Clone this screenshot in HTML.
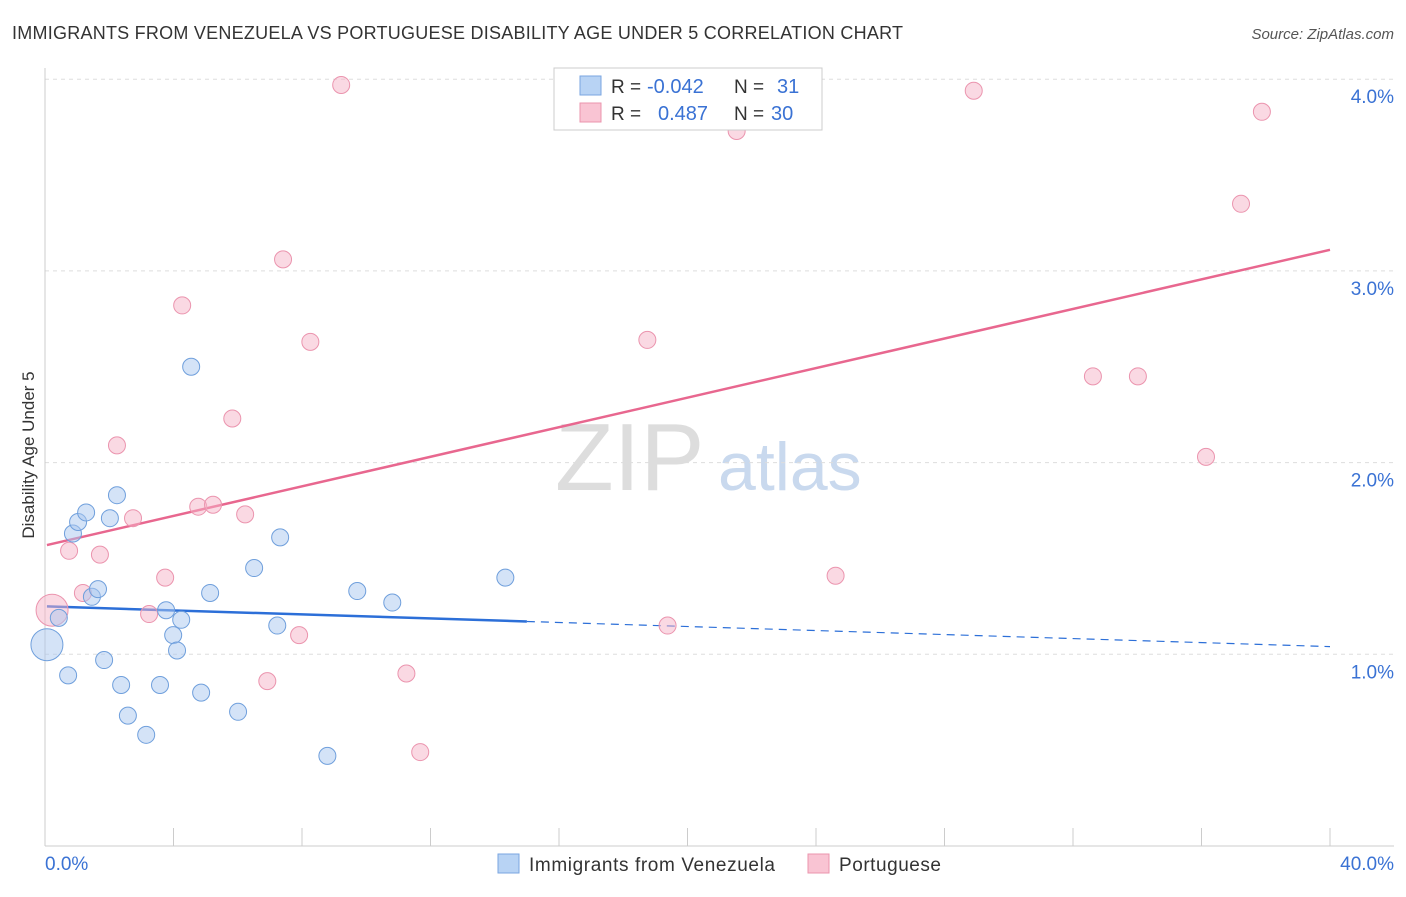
<!DOCTYPE html>
<html><head><meta charset="utf-8"><style>
body{margin:0;background:#fff;font-family:"Liberation Sans",sans-serif;}
svg text{font-family:"Liberation Sans",sans-serif;}
</style></head><body>
<svg id="chart" width="1406" height="892" xmlns="http://www.w3.org/2000/svg">
<text x="12" y="39" font-size="18" fill="#333" textLength="891">IMMIGRANTS FROM VENEZUELA VS PORTUGUESE DISABILITY AGE UNDER 5 CORRELATION CHART</text>
<text x="1394" y="39" font-size="15" fill="#555" font-style="italic" text-anchor="end">Source: ZipAtlas.com</text>
<text x="34" y="455" font-size="17" fill="#333" text-anchor="middle" transform="rotate(-90 34 455)">Disability Age Under 5</text>
<text x="555" y="490" font-size="96" fill="#ddd" font-family="Liberation Serif">ZIP</text>
<text x="718" y="490" font-size="68" fill="#c9d9ee">atlas</text>
<g id="grid"></g><g id="axes"></g><g id="lines"></g><g id="points"></g>
<g>
<rect x="554" y="68" width="268" height="62" fill="#fff" stroke="#ccc"/>
<rect x="580" y="76" width="21" height="19" fill="#b8d3f4" stroke="#7aa6e0"/>
<rect x="580" y="103" width="21" height="19" fill="#f9c4d3" stroke="#eb94ae"/>
<text x="611" y="93" font-size="19" fill="#333">R =</text><text x="647" y="93" font-size="20" fill="#3a72d4">-0.042</text>
<text x="734" y="93" font-size="19" fill="#333">N =</text><text x="777" y="93" font-size="20" fill="#3a72d4">31</text>
<text x="611" y="120" font-size="19" fill="#333">R =</text><text x="658" y="120" font-size="20" fill="#3a72d4">0.487</text>
<text x="734" y="120" font-size="19" fill="#333">N =</text><text x="771" y="120" font-size="20" fill="#3a72d4">30</text>
</g>
<g>
<rect x="498" y="854" width="21" height="19" fill="#b8d3f4" stroke="#7aa6e0"/>
<text x="529" y="871" font-size="19" fill="#333" textLength="246">Immigrants from Venezuela</text>
<rect x="808" y="854" width="21" height="19" fill="#f9c4d3" stroke="#eb94ae"/>
<text x="839" y="871" font-size="19" fill="#333" textLength="102">Portuguese</text>
</g>
</svg>
<script>
const xTicks=[0,4,8,12,16,20,24,28,32,36,40];
const yTicks=[1,2,3,4];
const blueX=[0.06,0.43,0.72,0.87,1.03,1.28,1.46,1.65,1.84,2.02,2.24,2.37,2.58,3.15,3.58,3.77,3.99,4.11,4.24,4.55,4.86,5.14,6.01,6.51,7.23,7.32,8.79,9.72,10.81,14.33];
const blueY=[1.05,1.19,0.89,1.63,1.69,1.74,1.30,1.34,0.97,1.71,1.83,0.84,0.68,0.58,0.84,1.23,1.10,1.02,1.18,2.50,0.80,1.32,0.70,1.45,1.15,1.61,0.47,1.33,1.27,1.40];
const pinkX=[0.22,0.75,1.18,1.71,2.24,2.74,3.24,3.74,4.27,4.77,5.23,5.83,6.23,6.92,7.41,7.91,8.26,9.22,11.25,11.68,18.75,19.38,21.53,24.61,28.91,32.62,34.02,36.14,37.23,37.88];
const pinkY=[1.23,1.54,1.32,1.52,2.09,1.71,1.21,1.40,2.82,1.77,1.78,2.23,1.73,0.86,3.06,1.10,2.63,3.97,0.90,0.49,2.64,1.15,3.73,1.41,3.94,2.45,2.45,2.03,3.35,3.83];
const blueLine=[1.25,1.04]; const pinkLine=[1.57,3.11];
const NS="http://www.w3.org/2000/svg";
const X=v=>45+v*(1285/40), Y=v=>846-v*191.7;
function mk(t,a,p){const e=document.createElementNS(NS,t);for(const k in a)e.setAttribute(k,a[k]);document.getElementById(p).appendChild(e);return e;}
yTicks.forEach(v=>{
 const l=mk('line',{x1:45,x2:1394,y1:Y(v),y2:Y(v),stroke:'#ddd','stroke-dasharray':'4,4'},'grid');
 
 
 const t=mk('text',{x:1394,y:Y(v)+24,'font-size':19,fill:'#3a72d4','text-anchor':'end'},'grid');t.textContent=v.toFixed(1)+'%';
 
 
});
mk('line',{x1:45,x2:45,y1:68,y2:846,stroke:'#ccc'},'axes');
mk('line',{x1:45,x2:1394,y1:846,y2:846,stroke:'#ccc'},'axes');
xTicks.forEach(v=>{
 const l=mk('line',{x1:X(v),x2:X(v),y1:828,y2:846,stroke:'#ccc'},'axes');
 
 
});
[[0,'0.0%','start',45],[40,'40.0%','end',1394]].forEach(d=>{
 const t=mk('text',{x:d[3],y:870,'font-size':19,fill:'#3a72d4','text-anchor':d[2]},'axes');t.textContent=d[1];
 
 
});
let bl=mk('line',{x1:X(0.06),y1:Y(blueLine[0]+(blueLine[1]-blueLine[0])*0.06/40),x2:X(15),y2:Y(blueLine[0]+(blueLine[1]-blueLine[0])*15/40),stroke:'#2c6fd8','stroke-width':2.5},'lines');


let bd=mk('line',{x1:X(15),y1:Y(blueLine[0]+(blueLine[1]-blueLine[0])*15/40),x2:X(40),y2:Y(blueLine[1]),stroke:'#2c6fd8','stroke-width':1.2,'stroke-dasharray':'8,6'},'lines');


let pl=mk('line',{x1:X(0.06),y1:Y(pinkLine[0]),x2:X(40),y2:Y(pinkLine[1]),stroke:'#e8678f','stroke-width':2.5},'lines');


pinkX.forEach((x,i)=>{
 const c=mk('circle',{cx:X(x),cy:Y(pinkY[i]),r:i==0?16:8.5,fill:'rgba(246,180,200,0.5)',stroke:'#eb94ae','stroke-width':1},'points');
 
 
});
blueX.forEach((x,i)=>{
 const c=mk('circle',{cx:X(x),cy:Y(blueY[i]),r:i==0?16:8.5,fill:'rgba(170,200,240,0.5)',stroke:'#6f9fdc','stroke-width':1},'points');
 
 
});
</script>
</body></html>
